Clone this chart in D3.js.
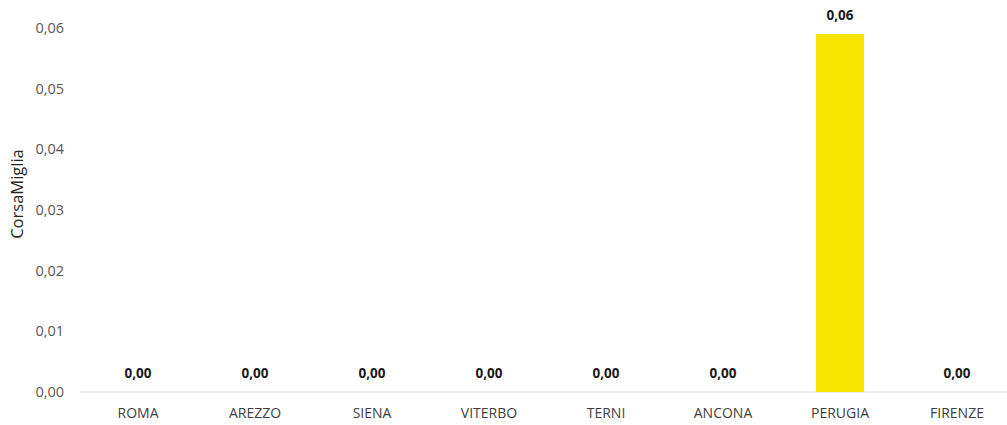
<!DOCTYPE html>
<html><head><meta charset="utf-8">
<script src="https://cdn.jsdelivr.net/npm/d3@7"></script>
<style>body{margin:0;background:#fff}svg{display:block}</style>
</head><body>
<svg id="c" width="1007" height="425"></svg>
<script>
const categories = ["ROMA","AREZZO","SIENA","VITERBO","TERNI","ANCONA","PERUGIA","FIRENZE"];
const values = [0, 0, 0, 0, 0, 0, 0.059, 0];
const yTicks = [0, 0.01, 0.02, 0.03, 0.04, 0.05, 0.06];
const yTitle = "CorsaMiglia";

const svg = d3.select("#c");
const fmt = v => d3.format(".2f")(v).replace(".", ",");
const font = "'Open Sans', 'Liberation Sans', sans-serif";

const x = d3.scaleBand().domain(categories).range([79.5, 1015.5]).paddingInner(0.59).paddingOuter(0.295);
const y = d3.scaleLinear().domain([0, 0.06]).range([392, 28]);

// y tick labels
const yAxis = d3.axisLeft(y).tickValues(yTicks).tickFormat(fmt).tickSize(0).tickPadding(0);
const ya = svg.append("g").attr("transform", "translate(64,0)").call(yAxis);
ya.select(".domain").remove();
ya.selectAll("text").attr("font-family", font).attr("font-size", 14.5).attr("fill", "#595959");

// x axis
const xAxis = d3.axisBottom(x).tickSize(0).tickPadding(16);
const xa = svg.append("g").attr("transform", `translate(0,${y(0)})`).call(xAxis);
xa.select(".domain").attr("stroke", "#d9d9d9").attr("stroke-width", 1).attr("d", `M79.5,0H1007`);
xa.selectAll("text").attr("font-family", font).attr("font-size", 14).attr("fill", "#404040");

// bars
svg.append("g").selectAll("rect").data(values).join("rect")
  .attr("x", (d,i) => x(categories[i]))
  .attr("width", x.bandwidth())
  .attr("y", d => y(d))
  .attr("height", d => y(0) - y(d))
  .attr("fill", "#f9e400");

// value labels
svg.append("g").selectAll("text").data(values).join("text")
  .attr("x", (d,i) => x(categories[i]) + x.bandwidth()/2)
  .attr("y", d => y(d) - 14)
  .attr("text-anchor", "middle")
  .attr("font-family", font).attr("font-size", 13.5).attr("font-weight", "bold")
  .attr("fill", "#1a1a1a")
  .text(d => fmt(d));

// y title
svg.append("text")
  .attr("transform", "translate(23,194) rotate(-90)")
  .attr("text-anchor", "middle")
  .attr("font-family", font).attr("font-size", 16.5).attr("fill", "#262626")
  .text(yTitle);
</script>
</body></html>
